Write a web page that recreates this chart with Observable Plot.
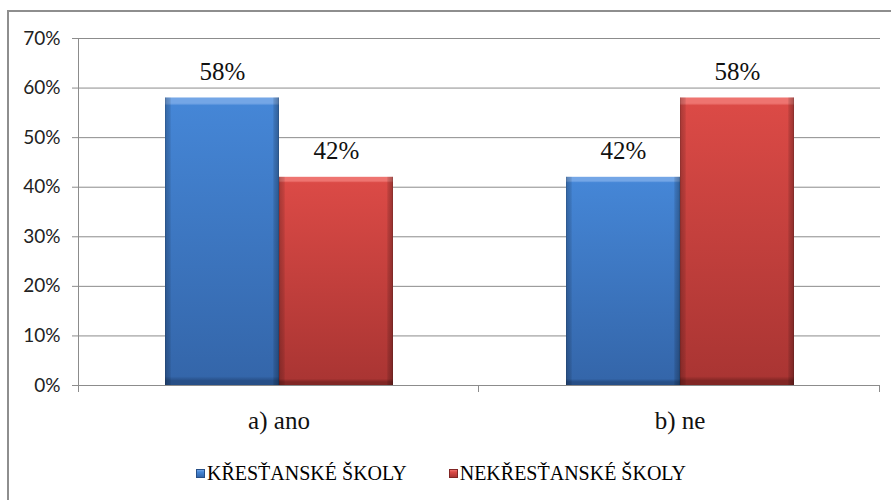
<!DOCTYPE html>
<html>
<head>
<meta charset="utf-8">
<script src="https://cdn.jsdelivr.net/npm/d3@7"></script>
<script src="https://cdn.jsdelivr.net/npm/@observablehq/plot@0.6"></script>
<style>
  html, body { margin: 0; padding: 0; background: #fff; }
  body { width: 891px; height: 500px; position: relative; overflow: hidden; }
  #border { position: absolute; left: 7px; top: 10px; width: 930px; height: 560px;
            border: 2px solid #8e8e8e; box-sizing: border-box; }
  #chart { position: absolute; left: 0; top: 0; }
  #legend { position: absolute; left: 196px; top: 463px; display: flex; gap: 42px;
            font-family: 'Liberation Serif', 'DejaVu Serif', serif; font-size: 20px;
            line-height: 20px; color: #000; white-space: nowrap; }
  #legend .item { display: flex; align-items: center; }
  #legend .swatch { width: 9px; height: 9px; margin-right: 2px; box-sizing: border-box; }
</style>
</head>
<body>
<div id="border"></div>
<div id="chart"></div>
<div id="legend"></div>
<script>
// Categories, series and their shares
const categories = ["a) ano", "b) ne"];
const seriesNames = ["KŘESŤANSKÉ ŠKOLY", "NEKŘESŤANSKÉ ŠKOLY"];
const krestanske = [0.58, 0.42];
const nekrestanske = [0.42, 0.58];
const yTicks = [0, 0.1, 0.2, 0.3, 0.4, 0.5, 0.6, 0.7];

const serif = "'Liberation Serif', 'DejaVu Serif', serif";
const sans = "Lato, 'Open Sans', sans-serif";

// Bar palette: [highlight, top, bottom, bottom edge]
const seriesColors = [
  ["#74a6e6", "#4586d6", "#3466aa", "#274f87"],
  ["#ee7470", "#db4a46", "#aa3533", "#812624"]
];

const data = categories.flatMap((c, i) => [
  {category: c, series: seriesNames[0], value: krestanske[i]},
  {category: c, series: seriesNames[1], value: nekrestanske[i]}
]);

const pct = d3.format(".0%");

// Axis line on the left and small ticks at the category boundaries,
// drawn once per facet from the facet's own category
function frameLines(index, scales) {
  const {x, y} = scales;
  const [x0, x1] = x.range();
  const g = d3.create("svg:g").attr("stroke", "#8c8c8c").attr("stroke-width", 1);
  for (const i of index) {
    g.append("line")
      .attr("x1", Math.round(x1) - 0.5).attr("x2", Math.round(x1) - 0.5)
      .attr("y1", y(0)).attr("y2", y(0) + 7);
    if (categories[i] === categories[0]) {
      g.append("line")
        .attr("x1", Math.round(x0) + 0.5).attr("x2", Math.round(x0) + 0.5)
        .attr("y1", y(0.7)).attr("y2", y(0) + 7);
    }
  }
  return g.node();
}

const chart = Plot.plot({
  width: 891,
  height: 445,
  marginLeft: 78,
  marginRight: 11,
  marginTop: 38,
  marginBottom: 60,
  style: {background: "transparent", overflow: "visible"},
  fx: {domain: categories, padding: 0, label: null},
  x: {domain: seriesNames, paddingInner: 0, paddingOuter: 0.7435, axis: null},
  y: {domain: [0, 0.7], label: null},
  color: {domain: seriesNames, range: ["url(#fill0)", "url(#fill1)"]},
  marks: [
    Plot.gridY(yTicks, {stroke: "#8c8c8c", strokeOpacity: 1, strokeWidth: 1}),
    Plot.axisY(yTicks, {
      tickFormat: pct, tickSize: 6, tickPadding: 12, label: null,
      stroke: "#8c8c8c", fill: "#222", fontSize: 19, fontFamily: sans
    }),
    Plot.axisFx({
      anchor: "bottom", tickSize: 0, tickPadding: 26, label: null,
      fill: "#111", fontSize: 25, fontFamily: serif
    }),
    Plot.barY(data, {fx: "category", x: "series", y: "value", fill: "series"}),
    Plot.barY(data, {fx: "category", x: "series", y: "value", fill: "url(#edges)"}),
    Plot.text(data, {
      fx: "category", x: "series", y: "value", text: d => pct(d.value),
      lineAnchor: "bottom", dy: -18, fill: "#111",
      fontSize: 25, fontFamily: serif
    }),
    Plot.ruleY(categories.map((c, i) => i), {
      fx: i => categories[i], y: () => 0, stroke: "none", render: frameLines
    })
  ]
});

document.getElementById("chart").append(chart);

// Gradients giving the bars their bevelled look
const svg = d3.select(chart.tagName.toLowerCase() === "svg" ? chart : chart.querySelector("svg"));
const defs = svg.insert("defs", ":first-child");
seriesColors.forEach(([hi, top, bottom, edge], i) => {
  const lg = defs.append("linearGradient").attr("id", `fill${i}`)
    .attr("x1", 0).attr("y1", 0).attr("x2", 0).attr("y2", 1);
  [[0, hi], [0.02, hi], [0.028, top], [0.97, bottom], [0.985, edge], [1, edge]]
    .forEach(([o, c]) => lg.append("stop").attr("offset", o).attr("stop-color", c));
});
const eg = defs.append("linearGradient").attr("id", "edges")
  .attr("x1", 0).attr("y1", 0).attr("x2", 1).attr("y2", 0);
[[0, 0.35], [0.012, 0.2], [0.045, 0.1], [0.055, 0], [0.945, 0], [0.955, 0.12], [0.988, 0.25], [1, 0.4]]
  .forEach(([o, a]) => eg.append("stop").attr("offset", o).attr("stop-color", "#000").attr("stop-opacity", a));

// Legend
const legend = d3.select("#legend");
seriesNames.forEach((name, i) => {
  const [hi, top, bottom, edge] = seriesColors[i];
  const item = legend.append("div").attr("class", "item");
  item.append("div").attr("class", "swatch")
    .style("background", `linear-gradient(${hi}, ${top} 30%, ${bottom})`)
    .style("border", `1px solid ${edge}`);
  item.append("span").text(name);
});
</script>
</body>
</html>
